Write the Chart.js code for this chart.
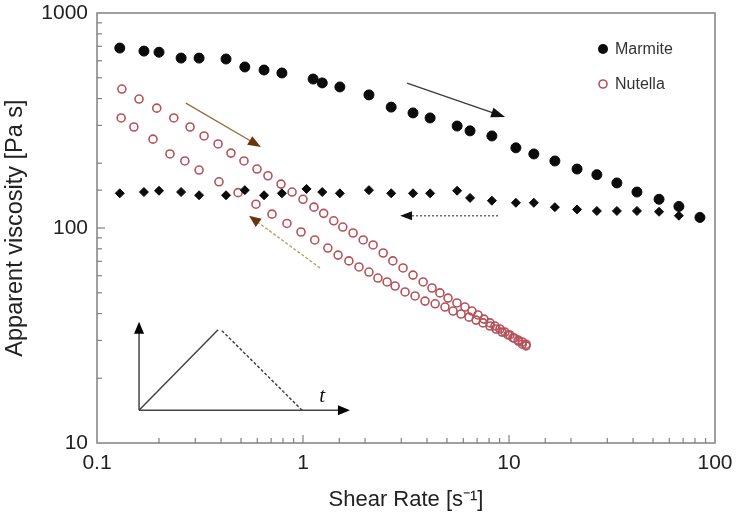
<!DOCTYPE html>
<html>
<head>
<meta charset="utf-8">
<script src="https://cdn.jsdelivr.net/npm/chart.js@4.4.0/dist/chart.umd.min.js"></script>
<style>
  body { margin: 0; background: #fff; }
  #wrap { width: 737px; height: 516px; }
</style>
</head>
<body>
<div id="wrap"><canvas id="graph" width="737" height="516"></canvas></div>
<script>
// Marmite, shear rate sweep up (circles) and back down (diamonds)
const marmiteUpX = [0.129, 0.169, 0.2, 0.256, 0.313, 0.423, 0.522, 0.647, 0.79, 1.12, 1.24, 1.51, 2.09, 2.68, 3.42, 4.14, 5.6, 6.47, 8.26, 10.8, 13.2, 16.7, 21.4, 26.7, 33.4, 41.8, 53.5, 66.8, 84.5];
const marmiteUpY = [687, 665, 657, 617, 617, 611, 561, 543, 526, 493, 473, 453, 416, 365, 343, 325, 298, 283, 268, 236, 221, 205, 188, 177, 162, 147, 136, 126, 112];
const marmiteDownX = [0.129, 0.169, 0.2, 0.256, 0.313, 0.423, 0.522, 0.647, 0.79, 1.04, 1.24, 1.51, 2.09, 2.68, 3.42, 4.14, 5.6, 6.47, 8.26, 10.8, 13.2, 16.7, 21.4, 26.7, 33.4, 41.8, 53.5, 66.8];
const marmiteDownY = [145, 147, 149, 147, 142, 142, 150, 142, 145, 152, 147, 145, 150, 145, 145, 145, 149, 138, 134, 131, 131, 125, 122, 120, 120, 120, 119, 114];

// Nutella, up and down sweep (open circles)
const nutellaUpX = [0.132, 0.160, 0.195, 0.236, 0.283, 0.331, 0.387, 0.447, 0.517, 0.598, 0.676, 0.782, 0.885, 1.0, 1.13, 1.26, 1.41, 1.56, 1.75, 1.96, 2.19, 2.45, 2.73, 3.06, 3.42, 3.83, 4.23, 4.62, 5.06, 5.59, 6.11, 6.61, 7.07, 7.56, 8.09, 8.55, 9.04, 9.56, 10.1, 10.6, 11.1, 11.6, 12.1];
const nutellaUpY = [443, 398, 361, 325, 295, 268, 246, 223, 205, 188, 175, 160, 147, 136, 125, 117, 108, 101, 94.8, 88, 83.4, 76.5, 70.3, 65.2, 60.4, 56.1, 52.6, 49.9, 47.2, 44.8, 42.9, 41.1, 39.4, 37.7, 36.2, 35.0, 33.9, 32.8, 31.8, 30.8, 30.1, 29.5, 28.8];
const nutellaDownX = [0.131, 0.151, 0.187, 0.226, 0.267, 0.313, 0.391, 0.484, 0.591, 0.707, 0.836, 0.978, 1.14, 1.32, 1.48, 1.67, 1.87, 2.09, 2.31, 2.56, 2.80, 3.13, 3.50, 3.91, 4.38, 4.89, 5.35, 5.85, 6.40, 6.92, 7.48, 8.09, 8.65, 9.25, 9.89, 10.45, 11.1, 11.6, 12.1];
const nutellaDownY = [325, 295, 259, 221, 205, 186, 164, 146, 129, 116, 105, 95.8, 88, 80.7, 74.8, 70.3, 65.9, 62.4, 58.5, 56.1, 53.7, 50.4, 48.3, 45.7, 44.4, 42.9, 41.1, 39.8, 38.5, 37.3, 36.2, 35.0, 33.9, 32.8, 31.8, 30.8, 29.8, 28.8, 28.3];

const xDecades = [0.1, 1, 10, 100];
const xTickLabels = ['0.1', '1', '10', '100'];
const yDecades = [10, 100, 1000];
const yTickLabels = ['10', '100', '1000'];
const legendLabels = ['Marmite', 'Nutella'];

const marmiteColor = '#0b0b0b';
const nutellaColor = '#b5525b';

function pts(xs, ys) {
    return xs.map((x, i) => ({ x: x, y: ys[i] }));
}

function decadeLabel(v, decades, labels) {
    const i = decades.findIndex(d => Math.abs(v / d - 1) < 1e-6);
    return i >= 0 ? labels[i] : '';
}

function isDecade(v) {
    const l = Math.log10(v);
    return Math.abs(l - Math.round(l)) < 1e-6;
}

function arrow(ctx, x1, y1, x2, y2, o) {
    const ang = Math.atan2(y2 - y1, x2 - x1);
    const hl = o.headLen || 12, hw = o.headW || 5;
    ctx.save();
    ctx.strokeStyle = o.color;
    ctx.lineWidth = o.width || 1.3;
    ctx.setLineDash(o.dash || []);
    ctx.beginPath();
    ctx.moveTo(x1, y1);
    ctx.lineTo(x2 - Math.cos(ang) * hl * 0.8, y2 - Math.sin(ang) * hl * 0.8);
    ctx.stroke();
    ctx.setLineDash([]);
    ctx.fillStyle = o.head || o.color;
    ctx.beginPath();
    ctx.moveTo(x2, y2);
    ctx.lineTo(x2 - Math.cos(ang) * hl - Math.sin(ang) * hw, y2 - Math.sin(ang) * hl + Math.cos(ang) * hw);
    ctx.lineTo(x2 - Math.cos(ang) * hl + Math.sin(ang) * hw, y2 - Math.sin(ang) * hl - Math.cos(ang) * hw);
    ctx.closePath();
    ctx.fill();
    ctx.restore();
}

// frame, inward ticks, legend, arrows and the small ramp sketch
const extras = {
    id: 'extras',
    beforeDatasetsDraw(chart) {
        const ctx = chart.ctx;
        const a = chart.chartArea;
        const xs = chart.scales.x, ys = chart.scales.y;
        ctx.save();
        ctx.strokeStyle = '#808080';
        ctx.lineWidth = 1.5;
        ctx.strokeRect(a.left, a.top, a.right - a.left, a.bottom - a.top);
        ctx.lineWidth = 1.2;
        xs.ticks.forEach(t => {
            const px = xs.getPixelForValue(t.value);
            if (px <= a.left + 1 || px >= a.right - 1) return;
            const len = isDecade(t.value) ? 8 : 5;
            ctx.beginPath();
            ctx.moveTo(px, a.bottom);
            ctx.lineTo(px, a.bottom - len);
            ctx.stroke();
        });
        ys.ticks.forEach(t => {
            const py = ys.getPixelForValue(t.value);
            if (py <= a.top + 1 || py >= a.bottom - 1) return;
            const len = isDecade(t.value) ? 8 : 5;
            ctx.beginPath();
            ctx.moveTo(a.left, py);
            ctx.lineTo(a.left + len, py);
            ctx.stroke();
        });
        ctx.restore();
    },
    afterDatasetsDraw(chart) {
        const ctx = chart.ctx;
        const a = chart.chartArea;
        const X = v => chart.scales.x.getPixelForValue(v);
        const Y = v => chart.scales.y.getPixelForValue(v);

        // sweep direction arrows
        arrow(ctx, X(3.2), Y(472), X(9.57), Y(328), { color: '#3a3a3a', head: '#111', headLen: 14, headW: 5 });
        arrow(ctx, X(0.27), Y(381), X(0.625), Y(238), { color: '#9a6a3c', head: '#6a3410', headLen: 13, headW: 5 });
        arrow(ctx, X(8.85), Y(114), X(2.96), Y(114), { color: '#666', head: '#111', dash: [2, 2], width: 1.5, headLen: 12, headW: 4.5 });
        arrow(ctx, X(1.21), Y(65.2), X(0.547), Y(114), { color: '#c0935a', head: '#6a3410', dash: [3, 2], headLen: 12, headW: 5 });

        // ramp sketch
        ctx.save();
        ctx.strokeStyle = '#444';
        ctx.lineWidth = 1.5;
        ctx.beginPath();
        ctx.moveTo(X(0.16), Y(14.2));
        ctx.lineTo(X(0.387), Y(33.6));
        ctx.stroke();
        ctx.setLineDash([3, 2]);
        ctx.beginPath();
        ctx.moveTo(X(0.404), Y(33.3));
        ctx.lineTo(X(0.99), Y(14.2));
        ctx.stroke();
        ctx.restore();
        arrow(ctx, X(0.16), Y(14.2), X(0.16), Y(36.6), { color: '#444', head: '#000', width: 1.5, headLen: 12, headW: 5 });
        arrow(ctx, X(0.16), Y(14.2), X(1.69), Y(14.2), { color: '#444', head: '#000', width: 1.5, headLen: 12, headW: 5 });
        ctx.save();
        ctx.fillStyle = '#111';
        ctx.font = 'italic 21px "Liberation Serif"';
        ctx.textAlign = 'center';
        ctx.textBaseline = 'middle';
        ctx.fillText('t', X(1.24), Y(16.4));
        ctx.restore();

        // legend
        ctx.save();
        const lx = a.right - 112, ly = a.top + 36;
        ctx.fillStyle = marmiteColor;
        ctx.beginPath();
        ctx.arc(lx, ly, 5, 0, Math.PI * 2);
        ctx.fill();
        ctx.strokeStyle = nutellaColor;
        ctx.lineWidth = 1.6;
        ctx.beginPath();
        ctx.arc(lx, ly + 35, 4, 0, Math.PI * 2);
        ctx.stroke();
        ctx.fillStyle = '#333';
        ctx.font = '16px "Liberation Sans"';
        ctx.textAlign = 'left';
        ctx.textBaseline = 'middle';
        ctx.fillText(legendLabels[0], lx + 12, ly + 1);
        ctx.fillText(legendLabels[1], lx + 12, ly + 36);
        ctx.restore();
    }
};

const ctx = document.getElementById('graph').getContext('2d');
const chart = new Chart(ctx, {
    type: 'scatter',
    data: {
        datasets: [
            {
                label: 'Marmite',
                data: pts(marmiteUpX, marmiteUpY),
                pointStyle: 'circle',
                pointRadius: 5,
                pointBorderWidth: 1,
                backgroundColor: marmiteColor,
                borderColor: marmiteColor,
            },
            {
                label: 'Marmite (down)',
                data: pts(marmiteDownX, marmiteDownY),
                pointStyle: 'rectRot',
                pointRadius: 4.5,
                pointBorderWidth: 1,
                backgroundColor: marmiteColor,
                borderColor: marmiteColor,
            },
            {
                label: 'Nutella',
                data: pts(nutellaUpX, nutellaUpY),
                pointStyle: 'circle',
                pointRadius: 4,
                pointBorderWidth: 1.6,
                backgroundColor: 'rgba(255,255,255,0)',
                borderColor: nutellaColor,
            },
            {
                label: 'Nutella (down)',
                data: pts(nutellaDownX, nutellaDownY),
                pointStyle: 'circle',
                pointRadius: 4,
                pointBorderWidth: 1.6,
                backgroundColor: 'rgba(255,255,255,0)',
                borderColor: nutellaColor,
            },
        ],
    },
    options: {
        responsive: false,
        animation: false,
        devicePixelRatio: 1,
        layout: { padding: { top: 13, right: 22, left: 0, bottom: 0 } },
        plugins: {
            legend: { display: false },
            tooltip: { enabled: false },
        },
        scales: {
            x: {
                type: 'logarithmic',
                min: 0.1,
                max: 100,
                grid: { display: false, tickLength: 8 },
                border: { display: false },
                ticks: {
                    autoSkip: false,
                    maxRotation: 0,
                    padding: 0,
                    color: '#222',
                    font: { family: 'Liberation Sans', size: 21 },
                    callback: v => decadeLabel(v, xDecades, xTickLabels),
                },
                title: {
                    display: true,
                    text: 'Shear Rate [s\u207B\u00B9]',
                    color: '#222',
                    font: { family: 'Liberation Sans', size: 22 },
                    padding: { top: 0, bottom: 3 },
                },
                afterFit: s => { s.height = 73; },
            },
            y: {
                type: 'logarithmic',
                min: 10,
                max: 1000,
                grid: { display: false, tickLength: 9 },
                border: { display: false },
                ticks: {
                    autoSkip: false,
                    padding: 0,
                    color: '#222',
                    font: { family: 'Liberation Sans', size: 21 },
                    callback: v => decadeLabel(v, yDecades, yTickLabels),
                },
                title: {
                    display: true,
                    text: 'Apparent viscosity [Pa s]',
                    color: '#222',
                    font: { family: 'Liberation Sans', size: 23.5 },
                    padding: { top: 1, bottom: 0 },
                },
                afterFit: s => { s.width = 97; },
            },
        },
    },
    plugins: [extras],
});
</script>
</body>
</html>
